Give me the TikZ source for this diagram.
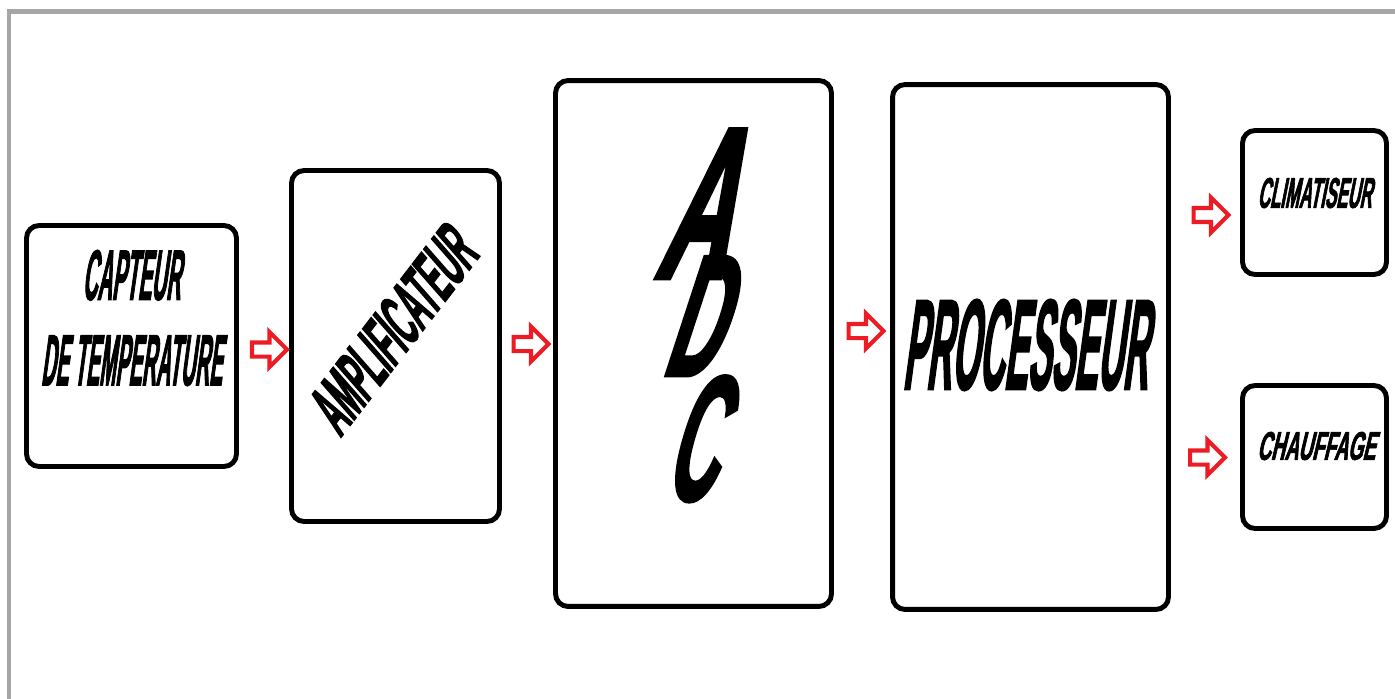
\documentclass[tikz,border=0pt]{standalone}
\usepackage{fontspec}
\usepackage{graphicx}
\usepackage{xcolor}
\usetikzlibrary{shapes.arrows}
\newfontfamily\blockfont[FakeStretch=0.4,FakeSlant=0.2,FakeBold=1.5]{Liberation Sans Bold}
\newfontfamily\adcfont[FakeStretch=0.4,FakeSlant=0.3,FakeBold=1.5]{Liberation Sans Bold}
\definecolor{frameGray}{RGB}{166,166,166}
\definecolor{arrowRed}{RGB}{237,28,36}
\newcommand{\blocktext}[3]{\resizebox{#1}{#2}{\blockfont #3}}
\newcommand{\adcletter}[3]{\resizebox{#1}{#2}{\adcfont #3}}

\begin{document}
\begin{tikzpicture}[
    x=0.02cm, y=-0.02cm,
    block/.style={draw=black, line width=2.8pt, rounded corners=0.25cm, fill=white, inner sep=0pt},
    blocklabel/.style={inner sep=0pt, align=center},
    blockarrow/.style={single arrow, draw=arrowRed, line width=2.3pt, fill=white, minimum height=0.7cm, minimum width=0.64cm, single arrow head extend=0.21cm, inner xsep=0pt, inner ysep=0.1cm},
    frameline/.style={draw=frameGray, line width=0.1cm}
]
    \useasboundingbox (0,0) rectangle (1395,699);
    \draw[frameline] (9,699) -- (9,12) -- (1395,12);

    \node[block, minimum width=4.2cm, minimum height=4.82cm] (capteur) at (131.5,346) {};
    \node[block, minimum width=4.16cm, minimum height=7.02cm] (ampli) at (395.5,346) {};
    \node[block, minimum width=5.52cm, minimum height=10.52cm] (adc) at (693.5,343.5) {};
    \node[block, minimum width=5.52cm, minimum height=10.5cm] (proc) at (1030.5,347) {};
    \node[block, minimum width=2.88cm, minimum height=2.88cm] (clim) at (1314.5,202.5) {};
    \node[block, minimum width=2.88cm, minimum height=2.86cm] (chauf) at (1314.5,457) {};

    \node[blocklabel] (capteurlbl) at ([yshift=0.56cm]capteur.center)
        {\blocktext{1.96cm}{1cm}{CAPTEUR}\\[0.66cm]\blocktext{3.62cm}{1cm}{DE TEMPERATURE}};
    \node[blocklabel, rotate=52.5] (amplilbl) at ([xshift=-0.09cm,yshift=0.28cm]ampli.center)
        {\blocktext{4.6cm}{1cm}{AMPLIFICATEUR}};
    \node[blocklabel] (adclbl) at ([xshift=-0.11cm,yshift=0.56cm]adc.center)
        {\adcletter{1.4cm}{3cm}{A}\\[-0.49cm]\adcletter{1.1cm}{2.4cm}{D}\\[-0.05cm]\adcletter{1cm}{2.5cm}{C}};
    \node[blocklabel] (proclbl) at ([xshift=-0.11cm,yshift=0.04cm]proc.center)
        {\blocktext{4.9cm}{1.8cm}{PROCESSEUR}};
    \node[blocklabel] (climlbl) at ([yshift=0.19cm]clim.center)
        {\blocktext{2.28cm}{0.6cm}{CLIMATISEUR}};
    \node[blocklabel] (chauflbl) at ([xshift=0.03cm,yshift=0.22cm]chauf.center)
        {\blocktext{2.36cm}{0.56cm}{CHAUFFAGE}};

    \node[blockarrow] (arrow1) at (266,349.5) {};
    \node[blockarrow] (arrow2) at (527.5,344) {};
    \node[blockarrow] (arrow3) at (862.5,331) {};
    \node[blockarrow] (arrow4) at (1207.5,215) {};
    \node[blockarrow] (arrow5) at (1204,457.5) {};
\end{tikzpicture}
\end{document}
